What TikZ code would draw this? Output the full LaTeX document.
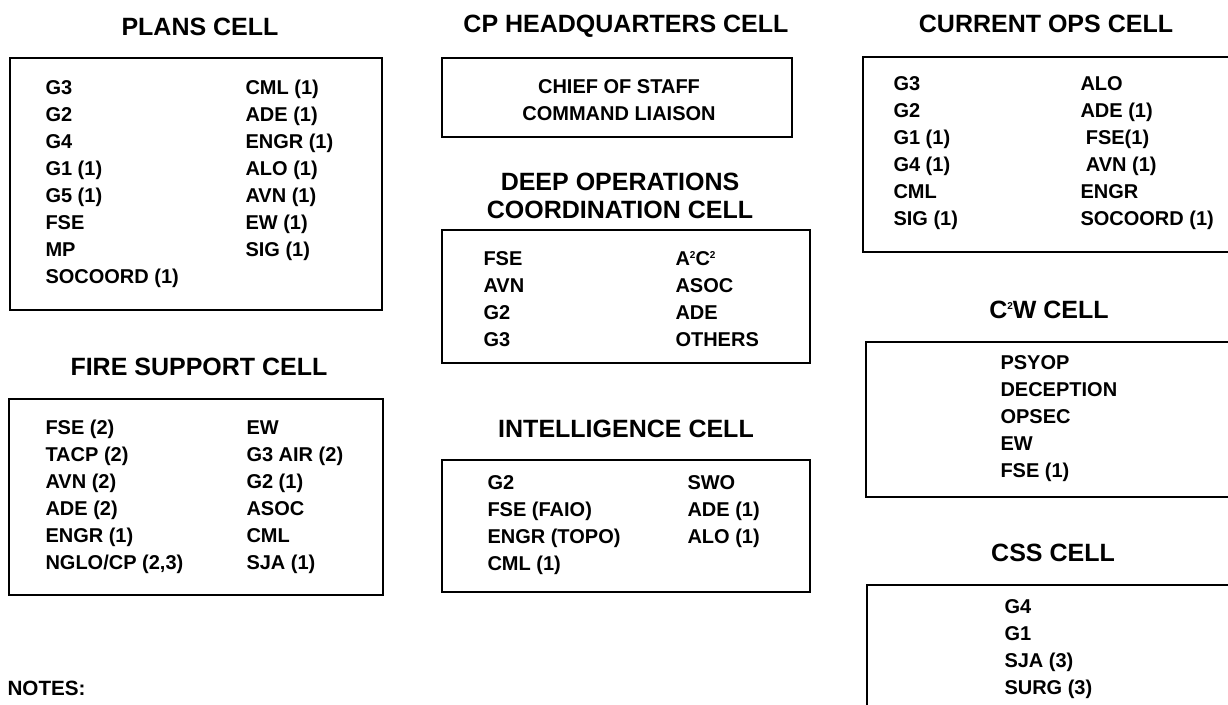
\documentclass[tikz,border=0pt]{standalone}
\usepackage{fontspec}
\setmainfont{Liberation Sans}
\newcommand{\sqr}{\raisebox{.36em}{\fontsize{7.5}{7.5}\selectfont 2}}
\tikzset{
	cell box/.style={line width=1.6pt},
	cell title/.style={font=\bfseries\fontsize{18.75}{21}\selectfont, align=center, inner sep=0pt},
	cell list/.style={font=\bfseries\fontsize{15}{20.25}\selectfont, align=left, anchor=north west, inner sep=0pt}}
\tikzset{every picture/.style={line width=0.75pt}}

\begin{document}
\begin{tikzpicture}[x=0.75pt,y=0.75pt,yscale=-1,xscale=1]
	\useasboundingbox (0,0) rectangle (1228,705);
	\clip (0,0) rectangle (1228,705);

	%Shape: Rectangle [plans] 
	\draw [cell box] (10,58) rectangle (382,310) ;
	%Shape: Rectangle [fire support] 
	\draw [cell box] (9,399) rectangle (383,595) ;
	%Shape: Rectangle [cp hq] 
	\draw [cell box] (442,58) rectangle (792,137) ;
	%Shape: Rectangle [deep ops] 
	\draw [cell box] (442,230) rectangle (810,363) ;
	%Shape: Rectangle [intelligence] 
	\draw [cell box] (442,460) rectangle (810,592) ;
	%Shape: Rectangle [current ops] 
	\draw [cell box] (863,57) rectangle (1240,252) ;
	%Shape: Rectangle [c2w] 
	\draw [cell box] (866,342) rectangle (1240,497) ;
	%Shape: Rectangle [css] 
	\draw [cell box] (867,585) rectangle (1240,720) ;

	% Text Node
	\node [cell title] (plansTitle) at (200,27) {PLANS CELL};
	% Text Node
	\node [cell list] (plansLeft) at (45,80) {G3\\G2\\G4\\G1 (1)\\G5 (1)\\FSE\\MP\\SOCOORD (1)};
	% Text Node
	\node [cell list] (plansRight) at (245,80) {CML (1)\\ADE (1)\\ENGR (1)\\ALO (1)\\AVN (1)\\EW (1)\\SIG (1)};

	% Text Node
	\node [cell title] (fireTitle) at (199,367) {FIRE SUPPORT CELL};
	% Text Node
	\node [cell list] (fireLeft) at (45,420) {FSE (2)\\TACP (2)\\AVN (2)\\ADE (2)\\ENGR (1)\\NGLO/CP (2,3)};
	% Text Node
	\node [cell list] (fireRight) at (246,420) {EW\\G3 AIR (2)\\G2 (1)\\ASOC\\CML\\SJA (1)};

	% Text Node
	\node [cell title] (cpTitle) at (626,26) {CP HEADQUARTERS CELL};
	% Text Node
	\node [font=\bfseries\fontsize{15}{20.25}\selectfont, align=center, inner sep=0pt] (cpStaff) at (619,100) {CHIEF OF STAFF\\COMMAND LIAISON};

	% Text Node
	\node [cell title] (deepTitle) at (620,196) {DEEP OPERATIONS\\COORDINATION CELL};
	% Text Node
	\node [cell list] (deepLeft) at (483,251) {FSE\\AVN\\G2\\G3};
	% Text Node
	\node [cell list] (deepRight) at (675,251) {A\sqr C\sqr\\ASOC\\ADE\\OTHERS};

	% Text Node
	\node [cell title] (intelTitle) at (626,429) {INTELLIGENCE CELL};
	% Text Node
	\node [cell list] (intelLeft) at (487,475) {G2\\FSE (FAIO)\\ENGR (TOPO)\\CML (1)};
	% Text Node
	\node [cell list] (intelRight) at (687,475) {SWO\\ADE (1)\\ALO (1)};

	% Text Node
	\node [cell title] (currentTitle) at (1046,24) {CURRENT OPS CELL};
	% Text Node
	\node [cell list] (currentLeft) at (893,76) {G3\\G2\\G1 (1)\\G4 (1)\\CML\\SIG (1)};
	% Text Node
	\node [cell list] (currentRight) at (1080,76) {ALO\\ADE (1)\\\hspace{4pt}FSE(1)\\\hspace{4pt}AVN (1)\\ENGR\\SOCOORD (1)};

	% Text Node
	\node [cell title] (c2wTitle) at (1049,310) {C\sqr W CELL};
	% Text Node
	\node [cell list] (c2wList) at (1000,355) {PSYOP\\DECEPTION\\OPSEC\\EW\\FSE (1)};

	% Text Node
	\node [cell title] (cssTitle) at (1053,553) {CSS CELL};
	% Text Node
	\node [cell list] (cssList) at (1004,599) {G4\\G1\\SJA (3)\\SURG (3)};

	% Text Node
	\node [font=\bfseries\fontsize{15.5}{17}\selectfont, anchor=west, inner sep=0pt] (notes) at (7,688) {NOTES:};

\end{tikzpicture}
\end{document}
